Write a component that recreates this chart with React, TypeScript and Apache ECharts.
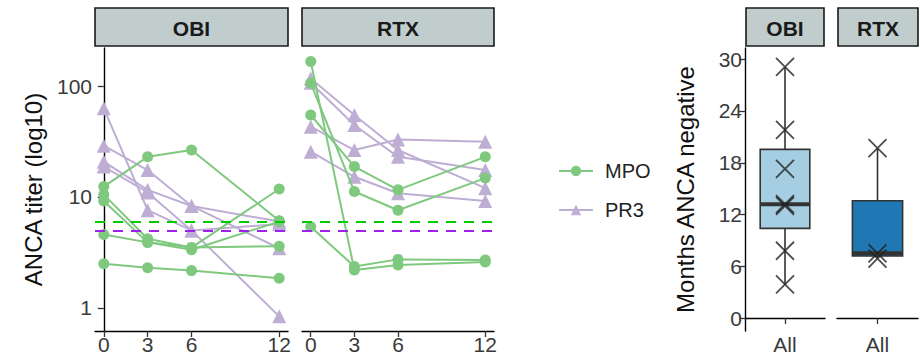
import { useEffect, useRef } from "react";
import * as echarts from "echarts";

const months = [0, 3, 6, 12];
const monthTicks = [0, 3, 6, 12];
const logTicks = [1, 10, 100];
const boxTicks = [0, 6, 12, 18, 24, 30];
const facets = ["OBI", "RTX"];
const boxCategory = ["All"];

const obiMPO = [
  [12.4, 23, 26.5, 6.1],
  [10.5, 4.2, 3.5, 11.8],
  [9.2, 3.9, 3.35, 6.0],
  [4.6, 3.9, 3.5, 3.6],
  [2.5, 2.3, 2.17, 1.85],
];
const obiPR3 = [
  [63, 7.6, 5.0, 0.84],
  [29, 17.5, 8.3, 6.0],
  [20.8, 11.6, 8.3, 3.45],
  [18.8, 11.0, 5.0, 5.7],
];
const rtxMPO = [
  [166, 2.2, 2.44, 2.6],
  [106, 11.2, 7.6, 14.8],
  [54.8, 18.8, 11.6, 23],
  [5.4, 2.36, 2.74, 2.7],
];
const rtxPR3 = [
  [117, 54.8, 26.5, 12],
  [107, 44.5, 23, 17.5],
  [43, 26.5, 33, 31.5],
  [25.6, 15.2, 10.8, 9.2],
];
const thresholdMPO = 6;
const thresholdPR3 = 5;

const monthsNegOBI = [3.9, 7.8, 13.0, 13.2, 17.3, 21.8, 29.1];
const monthsNegRTX = [6.9, 7.5, 19.7];

const FONT = "Liberation Sans, Arial, sans-serif";
const MPO_COLOR = "#7FC97F";
const PR3_COLOR = "#BEAED4";
const TXT = "#3a3a3a";
const TICK_FS = 21;
const TITLE_FS = 24;

function quantile(sorted: number[], p: number) {
  const h = (sorted.length - 1) * p;
  const lo = Math.floor(h);
  const hi = Math.ceil(h);
  return sorted[lo] + (sorted[hi] - sorted[lo]) * (h - lo);
}
function boxStats(vals: number[]) {
  const s = [...vals].sort((a, b) => a - b);
  const q1 = quantile(s, 0.25);
  const med = quantile(s, 0.5);
  const q3 = quantile(s, 0.75);
  const iqr = q3 - q1;
  const lo = s.filter((v) => v >= q1 - 1.5 * iqr)[0];
  const hiArr = s.filter((v) => v <= q3 + 1.5 * iqr);
  const hi = hiArr[hiArr.length - 1];
  return [0, lo, q1, med, q3, hi];
}

export default function App() {
  const ref = useRef<HTMLDivElement>(null);
  useEffect(() => {
    document.body.style.margin = "0";
    const chart = echarts.init(ref.current!, null, { renderer: "svg" });

    const grids = [
      { left: 95, top: 48, width: 193, height: 283 },
      { left: 302, top: 48, width: 192, height: 283 },
      { left: 745, top: 48, width: 80, height: 283 },
      { left: 837, top: 48, width: 81, height: 283 },
    ];

    const axisLine = { show: true, lineStyle: { color: "#000", width: 1.4 } };
    const axisTick = (vals: any[]) => ({
      show: true,
      length: 6,
      lineStyle: { color: "#333", width: 1.3 },
      customValues: vals,
    });
    const axisLabel = (vals: any[]) => ({
      fontSize: TICK_FS,
      color: TXT,
      fontFamily: FONT,
      customValues: vals,
      margin: 3,
    });

    const xAxes: any[] = [0, 1].map((g) => ({
      type: "value",
      gridIndex: g,
      min: -0.6,
      max: 12.6,
      axisLine,
      axisTick: axisTick(monthTicks),
      axisLabel: axisLabel(monthTicks),
      splitLine: { show: false },
    }));
    [2, 3].forEach((g) =>
      xAxes.push({
        type: "category",
        gridIndex: g,
        data: boxCategory,
        axisLine,
        axisTick: { show: true, alignWithLabel: true, length: 6, lineStyle: { color: "#333", width: 1.3 } },
        axisLabel: { fontSize: TICK_FS, color: TXT, fontFamily: FONT, margin: 3 },
      })
    );

    const yAxes: any[] = [
      {
        type: "log",
        logBase: 10,
        gridIndex: 0,
        min: 0.62,
        max: 220,
        axisLine,
        axisTick: axisTick(logTicks),
        axisLabel: axisLabel(logTicks),
        splitLine: { show: false },
        name: "ANCA titer (log10)",
        nameLocation: "middle",
        nameGap: 50,
        nameRotate: 90,
        nameTextStyle: { fontSize: TITLE_FS, color: "#111", fontFamily: FONT },
      },
      {
        type: "log",
        logBase: 10,
        gridIndex: 1,
        min: 0.62,
        max: 220,
        axisLine: { show: false },
        axisTick: { show: false },
        axisLabel: { show: false },
        splitLine: { show: false },
      },
      {
        type: "value",
        gridIndex: 2,
        min: -1.5,
        max: 31.3,
        axisLine,
        axisTick: axisTick(boxTicks),
        axisLabel: axisLabel(boxTicks),
        splitLine: { show: false },
        name: "Months ANCA negative",
        nameLocation: "middle",
        nameGap: 48,
        nameRotate: 90,
        nameTextStyle: { fontSize: TITLE_FS, color: "#111", fontFamily: FONT },
      },
      {
        type: "value",
        gridIndex: 3,
        min: -1.5,
        max: 31.3,
        axisLine: { show: false },
        axisTick: { show: false },
        axisLabel: { show: false },
        splitLine: { show: false },
      },
    ];

    const series: any[] = [];
    const addLines = (sets: number[][], g: number, name: string) => {
      sets.forEach((vals) => {
        series.push({
          type: "line",
          name,
          xAxisIndex: g,
          yAxisIndex: g,
          data: months.map((m, i) => [m, vals[i]]),
          symbol: name === "MPO" ? "circle" : "triangle",
          symbolSize: name === "MPO" ? 11 : 14,
          showSymbol: true,
          itemStyle: { color: name === "MPO" ? MPO_COLOR : PR3_COLOR },
          lineStyle: { color: name === "MPO" ? MPO_COLOR : PR3_COLOR, width: 2 },
          z: name === "MPO" ? 3 : 2,
        });
      });
    };
    addLines(obiPR3, 0, "PR3");
    addLines(rtxPR3, 1, "PR3");
    addLines(obiMPO, 0, "MPO");
    addLines(rtxMPO, 1, "MPO");

    [0, 1].forEach((g) =>
      series.push({
        type: "line",
        xAxisIndex: g,
        yAxisIndex: g,
        data: [],
        z: 5,
        markLine: {
          silent: true,
          symbol: "none",
          label: { show: false },
          lineStyle: { type: [10, 8], width: 2 },
          data: [
            { yAxis: thresholdMPO, lineStyle: { color: "#00CD00", type: [10, 8], width: 2 } },
            { yAxis: thresholdPR3, lineStyle: { color: "#A020F0", type: [10, 8], width: 2 } },
          ],
        },
      })
    );

    const boxColors = ["#A6CEE3", "#1F78B4"];
    [monthsNegOBI, monthsNegRTX].forEach((vals, k) => {
      const g = 2 + k;
      series.push({
        type: "custom",
        xAxisIndex: g,
        yAxisIndex: g,
        data: [boxStats(vals)],
        encode: { x: 0, y: [1, 2, 3, 4, 5] },
        renderItem: (params: any, api: any) => {
          const x = api.value(0);
          const minP = api.coord([x, api.value(1)]);
          const q1P = api.coord([x, api.value(2)]);
          const medP = api.coord([x, api.value(3)]);
          const q3P = api.coord([x, api.value(4)]);
          const maxP = api.coord([x, api.value(5)]);
          const bw = api.size([1, 0])[0] * 0.62;
          const cx = q1P[0];
          const st = { stroke: "#333", lineWidth: 1.6 };
          return {
            type: "group",
            children: [
              { type: "line", shape: { x1: cx, y1: maxP[1], x2: cx, y2: q3P[1] }, style: st },
              { type: "line", shape: { x1: cx, y1: q1P[1], x2: cx, y2: minP[1] }, style: st },
              {
                type: "rect",
                shape: { x: cx - bw / 2, y: q3P[1], width: bw, height: q1P[1] - q3P[1] },
                style: { fill: boxColors[k], stroke: "#333", lineWidth: 1.6 },
              },
              {
                type: "line",
                shape: { x1: cx - bw / 2, y1: medP[1], x2: cx + bw / 2, y2: medP[1] },
                style: { stroke: "#333", lineWidth: 4 },
              },
            ],
          };
        },
        z: 2,
      });
      series.push({
        type: "scatter",
        xAxisIndex: g,
        yAxisIndex: g,
        data: vals.map((v) => [0, v]),
        symbol: "path://M0,0L10,10M10,0L0,10",
        symbolSize: 18,
        itemStyle: { color: "rgba(0,0,0,0)", borderColor: "#222", borderWidth: 1.8 },
        z: 4,
      });
    });

    const strips = [
      { x: 95, w: 193, label: facets[0] },
      { x: 302, w: 192, label: facets[1] },
      { x: 746, w: 78, label: facets[0] },
      { x: 838, w: 80, label: facets[1] },
    ];
    const graphic: any[] = [];
    strips.forEach((s) => {
      graphic.push({
        type: "rect",
        shape: { x: s.x, y: 8, width: s.w, height: 38 },
        style: { fill: "#C1CDCD", stroke: "#1a1a1a", lineWidth: 1.6 },
      });
      graphic.push({
        type: "text",
        x: s.x + s.w / 2,
        y: 28,
        style: {
          text: s.label,
          fontSize: 21,
          fontWeight: "bold",
          fontFamily: FONT,
          fill: "#1a1a1a",
          align: "center",
          verticalAlign: "middle",
        },
      });
    });

    chart.setOption({
      animation: false,
      grid: grids,
      xAxis: xAxes,
      yAxis: yAxes,
      series,
      graphic,
      legend: {
        data: [{ name: "MPO" }, { name: "PR3" }],
        orient: "vertical",
        left: 553,
        top: 156,
        itemWidth: 34,
        itemHeight: 13,
        itemGap: 19,
        textStyle: { fontSize: 20, color: "#222", fontFamily: FONT, padding: [0, 0, 0, 7] },
      },
    });
    return () => chart.dispose();
  }, []);
  return <div ref={ref} style={{ width: 920, height: 362 }} />;
}
